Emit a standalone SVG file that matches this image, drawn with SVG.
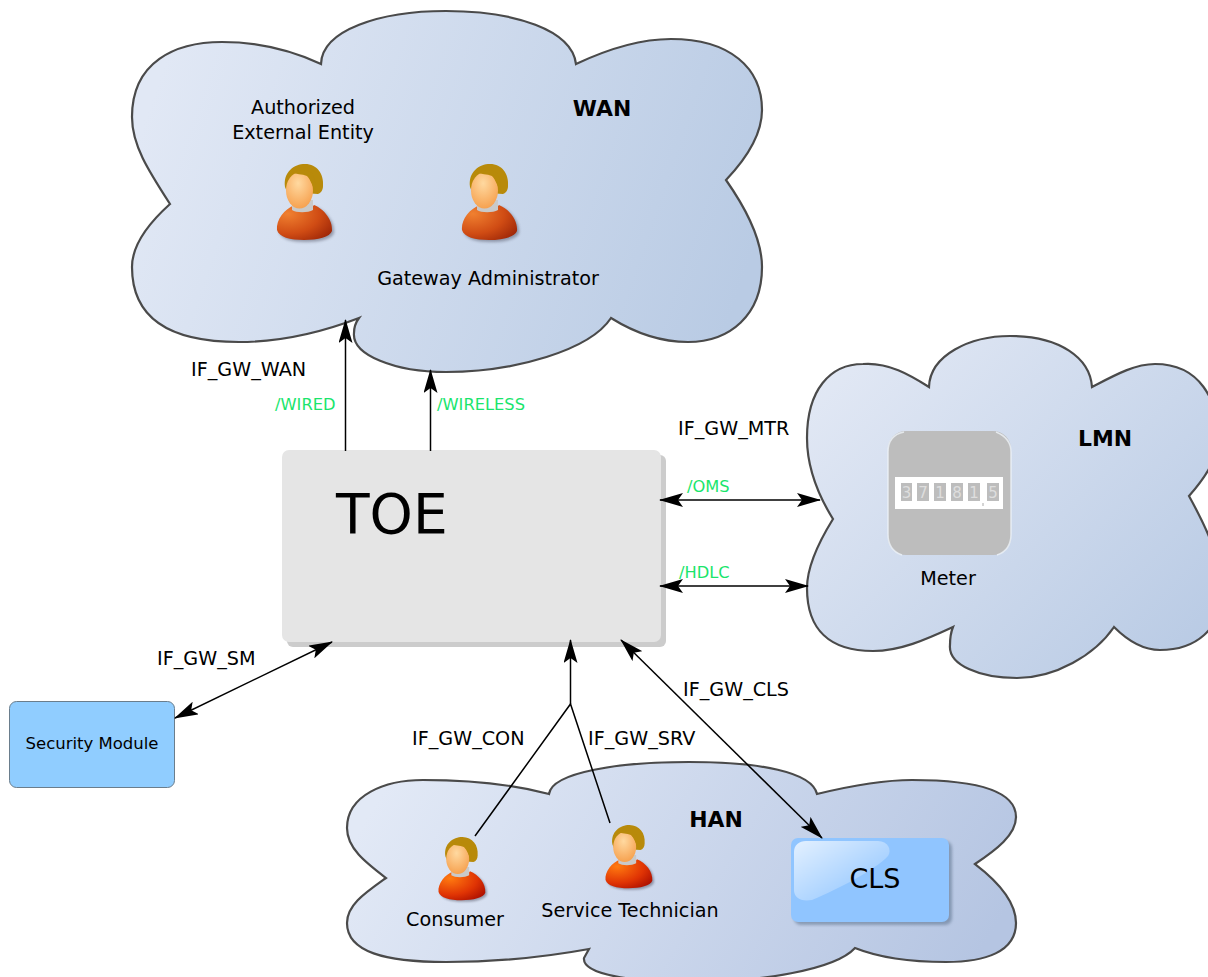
<svg xmlns="http://www.w3.org/2000/svg" xmlns:xlink="http://www.w3.org/1999/xlink" width="1208" height="977" viewBox="0 0 1208 977">
<style>
.t{font-family:"DejaVu Sans",sans-serif;font-size:19.2px;fill:#000}
.b{font-weight:bold;font-size:21.9px}
.g{font-family:"DejaVu Sans",sans-serif;font-size:16.3px;fill:#1ae56c}
.cloud{stroke:#4a4a4a;stroke-width:2.2}
.c{fill:none;stroke:#000;stroke-width:1.5}
</style>
<defs>
<linearGradient id="cg" x1="0" y1="0.4" x2="1" y2="0.6"><stop offset="0" stop-color="#e1e8f5"/><stop offset="1" stop-color="#b9cbe4"/></linearGradient>
<linearGradient id="lg" x1="0" y1="0.1" x2="1" y2="0.9"><stop offset="0" stop-color="#e3e9f5"/><stop offset="1" stop-color="#b8cae4"/></linearGradient>
<linearGradient id="hg" x1="0" y1="0.4" x2="1" y2="0.6"><stop offset="0" stop-color="#e2e9f6"/><stop offset="1" stop-color="#b5c5e2"/></linearGradient>
<radialGradient id="shirt" cx="0.2" cy="0.25" r="0.95"><stop offset="0" stop-color="#f08030"/><stop offset="0.6" stop-color="#d04c14"/><stop offset="1" stop-color="#a02808"/></radialGradient>
<radialGradient id="shirt2" cx="0.25" cy="0.25" r="0.95"><stop offset="0" stop-color="#ff7a10"/><stop offset="0.6" stop-color="#e03404"/><stop offset="1" stop-color="#a80c00"/></radialGradient>
<radialGradient id="face" cx="0.45" cy="0.3" r="0.8"><stop offset="0" stop-color="#ffd9a0"/><stop offset="1" stop-color="#f59a45"/></radialGradient>
<linearGradient id="gloss" x1="0" y1="0" x2="0.8" y2="0.8"><stop offset="0" stop-color="#fff" stop-opacity="0.75"/><stop offset="1" stop-color="#fff" stop-opacity="0.1"/></linearGradient>
<filter id="blur" x="-20%" y="-20%" width="140%" height="140%"><feGaussianBlur stdDeviation="1.5"/></filter>
<marker id="ah" viewBox="0 0 24 14" markerWidth="24" markerHeight="14" refX="23" refY="7" orient="auto-start-reverse" markerUnits="userSpaceOnUse"><path d="M24 7L0 0L5 7L0 14Z" fill="#000"/></marker>
<path id="body" d="M-27 30C-28 20-20 9-9 5C-4 11 6 11 10 5C20 9 29 20 28 31C26 37 14 40 0 40C-14 40-25 37-27 30Z"/>
<g id="head">
<path d="M-12 0H9V10C4 13-8 13-12 10Z" fill="#c9c9c9"/>
<path d="M-19 -13C-21 -28-10 -36 1 -36C13 -36 20 -26 19 -14C19 -10 17 -7 14 -6L-17 -8Z" fill="#b88a0a"/>
<ellipse cx="-4.500" cy="-9.500" rx="13.500" ry="18" fill="url(#face)"/>
<path d="M-12 -27C-6 -31 4 -31 8 -27C11 -22 12 -16 11 -10C8 -14 7 -20 3 -24C-2 -26-8 -26-12 -27Z" fill="#b88a0a"/>
</g>
<g id="person">
<use xlink:href="#body" href="#body" x="2" y="2" fill="#445" opacity=".45" filter="url(#blur)"/>
<use xlink:href="#body" href="#body" fill="url(#shirt)"/>
<use xlink:href="#head" href="#head"/>
</g>
<g id="person2">
<use xlink:href="#body" href="#body" x="2" y="2" fill="#445" opacity=".45" filter="url(#blur)"/>
<use xlink:href="#body" href="#body" fill="url(#shirt2)"/>
<use xlink:href="#head" href="#head"/>
</g>
</defs>
<rect width="1208" height="977" fill="#fff"/>
<g id="cloud-wan"><path class="cloud" fill="url(#cg)" d="M170 204C148 170 132 145 132 117C132 62 175 42 222 42C260 42 295 52 321 64C322 30 380 11 446 11C515 11 572 30 576 64C610 48 640 39 671 39C730 39 762 68 762 110C762 135 745 160 726 180C747 210 762 240 762 267C762 315 730 342 688 342C660 342 635 333 611 318C590 350 515 372 446 372C395 372 352 355 354 333C354 326 356 322 359 318C320 333 280 342 239 342C165 342 132 315 132 267C132 245 150 222 170 204Z"/></g>
<g id="cloud-lmn"><path class="cloud" fill="url(#lg)" d="M833 519C815 490 807 465 807 438C807 390 830 364 863 364C888 362 910 375 929 387C930 355 970 336 1010 336C1060 336 1090 358 1092 387C1115 375 1135 364 1155 364C1200 364 1218 400 1218 438C1218 460 1203 480 1189 496C1205 525 1222 560 1222 590C1222 630 1195 650 1160 650C1140 650 1125 638 1114 627C1095 655 1055 678 1017 678C980 678 948 665 950 645C950 637 951 632 953 627C925 640 900 651 873 651C830 651 807 630 807 588C807 565 820 540 833 519Z"/></g>
<g id="cloud-han"><path class="cloud" fill="url(#hg)" d="M386 878C365 862 347 848 347 828C347 795 385 780 423 780C470 780 515 785 549 794C552 772 620 762 689 762C760 762 812 772 817 794C850 786 880 780 912 780C975 780 1016 790 1016 817C1016 835 996 850 975 864C996 880 1016 900 1016 923C1016 952 985 962 946 962C910 962 880 958 855 948C835 970 760 982 689 982C635 982 582 975 584 958L589 949C540 958 495 962 446 962C385 962 347 952 347 923C347 905 365 893 386 878Z"/></g>
<g id="toe">
<rect x="287" y="455" width="379" height="192" rx="6" fill="#cccccc"/>
<rect x="282" y="450" width="379" height="192" rx="7" fill="#e5e5e5"/>
<text x="336" y="533" font-family="DejaVu Sans, sans-serif" font-size="55" fill="#000">TOE</text>
</g>
<g id="security-module">
<rect x="9.500" y="701.500" width="165" height="86" rx="7" fill="#90cdff" stroke="#6a7d8c" stroke-width="1"/>
<text x="92" y="749" text-anchor="middle" font-family="DejaVu Sans, sans-serif" font-size="16.500" fill="#000">Security Module</text>
</g>
<g id="authorized-entity">
<use xlink:href="#person" href="#person" x="304" y="200"/>
<text class="t" x="303" y="114" text-anchor="middle">Authorized</text>
<text class="t" x="303" y="139" text-anchor="middle">External Entity</text>
</g>
<g id="gateway-admin">
<use xlink:href="#person" href="#person" x="489" y="200"/>
<text class="t" x="488" y="285" text-anchor="middle">Gateway Administrator</text>
</g>
<g id="consumer">
<use xlink:href="#person2" href="#person2" transform="translate(461.500 867) scale(.85 .83)"/>
<text class="t" x="455" y="926" text-anchor="middle">Consumer</text>
</g>
<g id="service-technician">
<use xlink:href="#person2" href="#person2" transform="translate(628.500 855) scale(.85 .83)"/>
<text class="t" x="630" y="917" text-anchor="middle">Service Technician</text>
</g>
<g id="meter">
<rect x="888" y="431" width="123" height="124" rx="18" fill="#bdbdbd"/>
<path d="M904 432C894 434 888 441 888 452V534C888 545 893 552 902 555M996 432C1006 436 1011 442 1011 452V534C1011 545 1006 552 997 555" fill="none" stroke="#eef2f8" stroke-width="1.500" stroke-opacity=".8"/>
<rect x="895" y="477" width="108" height="32" fill="#fff"/>
<g fill="#bdbdbd"><rect x="901" y="483" width="11" height="18"/><rect x="917" y="483" width="12" height="18"/><rect x="934" y="483" width="12" height="18"/><rect x="951" y="483" width="12" height="18"/><rect x="968" y="483" width="12" height="18"/><rect x="987" y="483" width="12" height="18"/></g>
<g font-family="DejaVu Sans, sans-serif" font-size="15" fill="#dedede" text-anchor="middle"><text x="906.500" y="498">3</text><text x="923" y="498">7</text><text x="940" y="498">1</text><text x="957" y="498">8</text><text x="974" y="498">1</text><text x="993" y="498">5</text></g>
<path d="M983 503V506" stroke="#aaa" stroke-width="1"/>
<text class="t" x="948" y="585" text-anchor="middle">Meter</text>
</g>
<g id="cls">
<rect x="794" y="841" width="158" height="84" rx="7" fill="#5a6f8a" opacity=".55" filter="url(#blur)"/>
<rect x="791" y="838" width="158" height="84" rx="7" fill="#90c5ff"/>
<path d="M794 852C794 845 799 841 806 841L878 841C888 841 892 850 888 856C875 870 840 888 812 900C800 902 794 897 794 890Z" fill="url(#gloss)"/>
<text x="875" y="888" text-anchor="middle" font-family="DejaVu Sans, sans-serif" font-size="27" fill="#000">CLS</text>
</g>
<g id="connectors">
<path class="c" d="M345.500 451V320" marker-end="url(#ah)"/>
<path class="c" d="M430.500 451V370" marker-end="url(#ah)"/>
<path class="c" d="M660 500H820" marker-start="url(#ah)" marker-end="url(#ah)"/>
<path class="c" d="M660 586H808" marker-start="url(#ah)" marker-end="url(#ah)"/>
<path class="c" d="M332 642L175 718" marker-start="url(#ah)" marker-end="url(#ah)"/>
<path class="c" d="M570.500 704V640" marker-end="url(#ah)"/>
<path class="c" d="M475 836L570.500 704L610 823"/>
<path class="c" d="M621 640L822 838" marker-start="url(#ah)" marker-end="url(#ah)"/>
</g>
<g id="labels">
<text class="t b" x="602" y="116" text-anchor="middle">WAN</text>
<text class="t b" x="1105" y="446" text-anchor="middle">LMN</text>
<text class="t b" x="716" y="827" text-anchor="middle">HAN</text>
<text class="t" x="191" y="376">IF_GW_WAN</text>
<text class="g" x="275" y="410">/WIRED</text>
<text class="g" x="437" y="410">/WIRELESS</text>
<text class="t" x="678" y="435">IF_GW_MTR</text>
<text class="g" x="687" y="492">/OMS</text>
<text class="g" x="679" y="578">/HDLC</text>
<text class="t" x="157" y="665">IF_GW_SM</text>
<text class="t" x="412" y="745">IF_GW_CON</text>
<text class="t" x="588" y="745">IF_GW_SRV</text>
<text class="t" x="683" y="696">IF_GW_CLS</text>
</g>
</svg>
